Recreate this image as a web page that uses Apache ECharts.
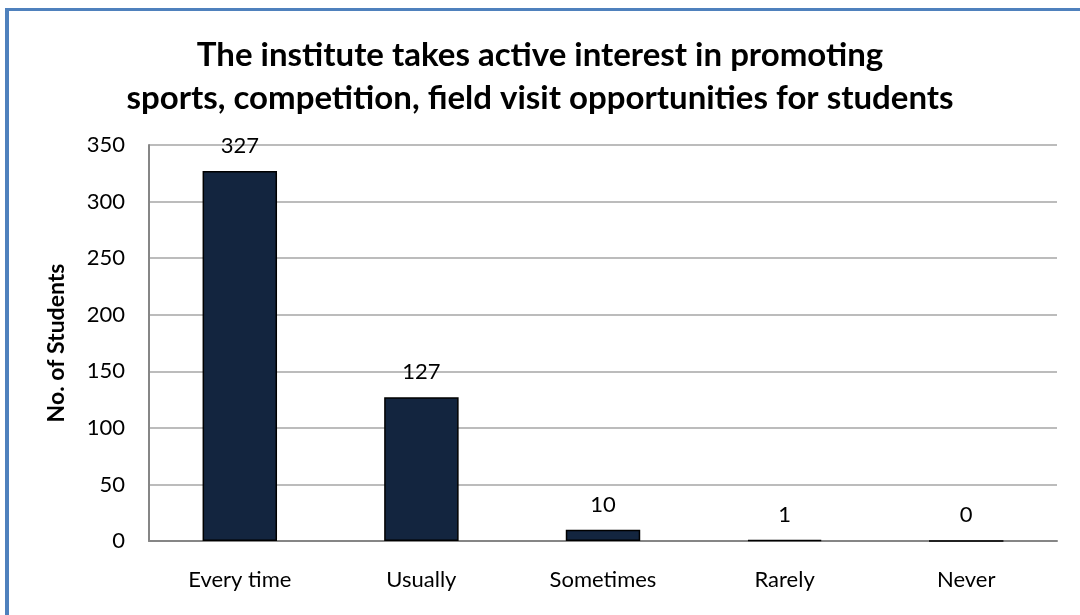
<!DOCTYPE html>
<html>
<head>
<meta charset="utf-8">
<script src="https://cdn.jsdelivr.net/npm/echarts@6/dist/echarts.min.js"></script>
<style>
html,body{margin:0;padding:0;background:#fff;}
#wrap{position:relative;width:1080px;height:615px;overflow:hidden;}
#chart{position:absolute;left:0;top:0;width:1080px;height:615px;}
#frame{position:absolute;left:5px;top:8px;width:1200px;height:800px;border-left:4px solid #4F81BD;border-top:3px solid #4F81BD;box-sizing:border-box;pointer-events:none;}
</style>
</head>
<body>
<div id="wrap"><div id="chart"></div><div id="frame"></div></div>
<script>
const titleText = 'The institute takes active interest in promoting\nsports, competition, field visit opportunities for students';
const yAxisName = 'No. of Students';
const categories = ['Every time', 'Usually', 'Sometimes', 'Rarely', 'Never'];
const values = [327, 127, 10, 1, 0];
const yMin = 0, yMax = 350, yStep = 50;

const FONT = 'Lato, "Open Sans", sans-serif';
const chart = echarts.init(document.getElementById('chart'));
chart.setOption({
  animation: false,
  backgroundColor: '#fff',
  title: {
    text: titleText,
    left: 'center',
    top: 29,
    textStyle: { fontFamily: FONT, fontWeight: 'bold', fontSize: 33, lineHeight: 43, color: '#000' }
  },
  grid: { left: 149, right: 23, top: 145, bottom: 74, containLabel: false },
  xAxis: {
    type: 'category',
    data: categories,
    axisLine: { show: true, lineStyle: { color: '#868686', width: 2 } },
    axisTick: { show: false },
    axisLabel: { margin: 28, fontFamily: FONT, fontSize: 22, color: '#000' }
  },
  yAxis: {
    type: 'value',
    min: yMin, max: yMax, interval: yStep,
    name: yAxisName,
    nameLocation: 'middle',
    nameGap: 81,
    nameTextStyle: { fontFamily: FONT, fontWeight: 'bold', fontSize: 23, color: '#000' },
    axisLine: { show: true, lineStyle: { color: '#868686', width: 2 } },
    axisTick: { show: false },
    axisLabel: { margin: 24, fontFamily: FONT, fontSize: 22, color: '#000' },
    splitLine: { lineStyle: { color: '#A6A6A6', width: 1.5 } }
  },
  series: [{
    type: 'bar',
    data: values,
    barWidth: '41%',
    itemStyle: { color: '#13253F', borderColor: '#000', borderWidth: 1.5 },
    label: { show: true, position: 'top', distance: 14, fontFamily: FONT, fontSize: 22, color: '#000' }
  }]
});
</script>
</body>
</html>
